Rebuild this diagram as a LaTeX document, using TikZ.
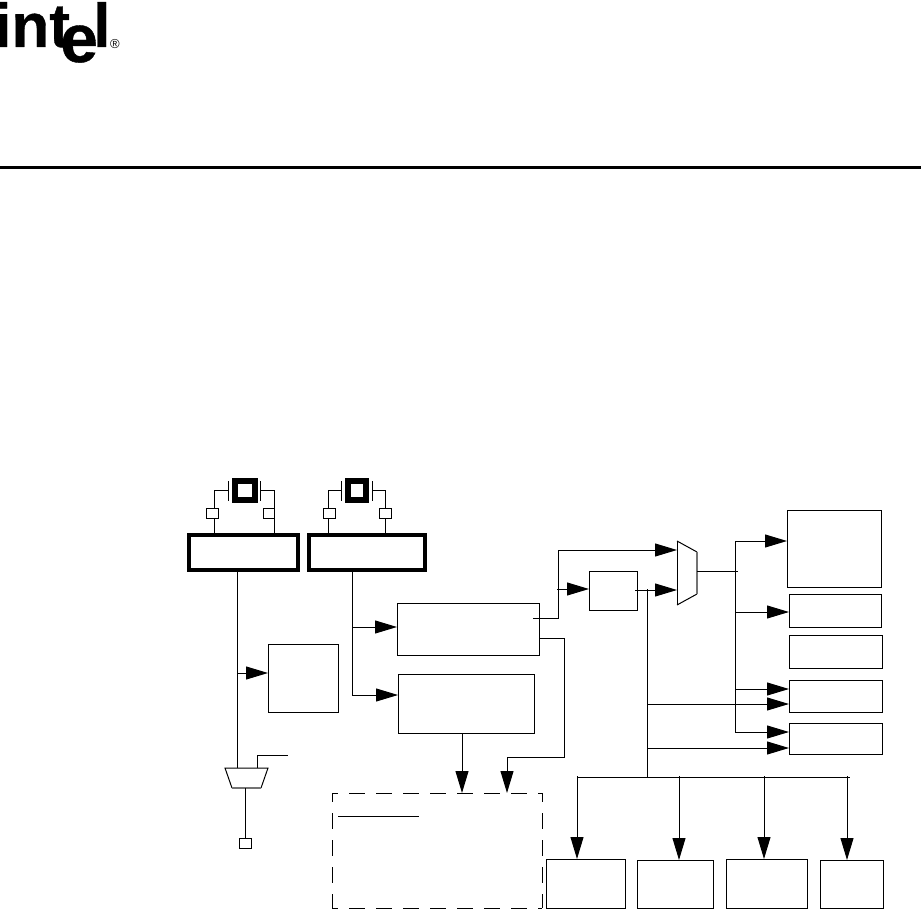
\documentclass[tikz,border=0pt]{standalone}
\usepackage{fontspec}
\setmainfont{Liberation Sans}
\newfontfamily\logofont[FakeBold=0.6]{Liberation Sans Bold}
\usetikzlibrary{arrows.meta, calc}

\begin{document}
\begin{tikzpicture}[
    x=1pt, y=-1pt,
    % Define styles for reusable components
    block/.style 2 args={draw, line width=1pt, fill=white, inner sep=0pt, outer sep=0pt, anchor=north west, minimum width=#1pt, minimum height=#2pt},
    heavy/.style 2 args={block={#1}{#2}, line width=3.4pt},
    pad/.style={block={12}{10}},
    wire/.style={line width=1pt},
    arrow/.style={wire, -{Triangle[length=22pt, width=13pt]}},
    logo/.style={inner sep=0pt, anchor=base west, font=\logofont\fontsize{62}{62}\selectfont}
]

    \useasboundingbox (0,0) rectangle (921,909);

    % --- HEADER ---
    \node[logo] (logoint) at (-6,47) {int};
    \node[logo, font=\logofont\fontsize{68}{68}\selectfont] (logoe) at (60,62) {e};
    \node[logo] (logol) at (93,47) {l};
    \node[inner sep=0pt, font=\fontsize{13}{13}\selectfont] (logoreg) at (115,44) {®};
    \draw[line width=3pt] (0,167.5) -- (921,167.5);

    % --- CRYSTAL 1 ---
    \node[heavy={20}{19}, line width=6pt] (xtalA) at (235,481) {};
    \node[heavy={109}{35}] (oscA) at (189,535) {};
    \coordinate (padAl) at (214,533);
    \coordinate (padAr) at (274,533);
    \draw[wire] (228.5,481) -- (228.5,501);
    \draw[wire] (260,481) -- (260,501);
    \draw[wire] (228.5,490) -| (padAl);
    \draw[wire] (260,490) -| (padAr);
    \node[pad] (pinAl) at (206,508) {};
    \node[pad, minimum width=11pt] (pinAr) at (263,508) {};

    % --- CRYSTAL 2 ---
    \node[heavy={18}{19}, line width=6pt] (xtalB) at (348,481) {};
    \node[heavy={116}{35}] (oscB) at (309,535) {};
    \coordinate (padBl) at (328,533);
    \coordinate (padBr) at (385,533);
    \draw[wire] (341,481) -- (341,501);
    \draw[wire] (372,481) -- (372,501);
    \draw[wire] (341,490) -| (padBl);
    \draw[wire] (372,490) -| (padBr);
    \node[pad] (pinBl) at (323,508) {};
    \node[pad] (pinBr) at (379,508) {};

    % --- LEFT BRANCH ---
    \node[block={70}{68}] (boxTimer) at (268,644) {};
    \coordinate (muxAin) at (237,768);
    \coordinate (muxAsel) at (257,768);
    \coordinate (muxAout) at (245,788);
    \coordinate (selEnd) at (288,755);
    \draw[wire] (237,569) -- (muxAin);
    \draw[arrow] (237,673) -- (237,673 -| boxTimer.west);
    \draw[wire] (muxAsel) |- (selEnd);
    \draw[line width=1pt] (232,788) -- (225,768) -- (268,768) -- (261,788);
    \draw[line width=1.4pt, black!55] (232,788) -- (261,788);
    \node[pad] (pinOut) at (239,838) {};
    \draw[wire] (muxAout) -- (pinOut.north -| muxAout);

    % --- MIDDLE BRANCH ---
    \node[block={142}{52}] (boxPll) at (397,603) {};
    \node[block={136}{59}] (boxDiv) at (398,674) {};
    \coordinate (tapPll) at (352,627);
    \coordinate (tapDiv) at (352,695);
    \draw[wire] (oscB.south -| tapPll) -- (tapDiv);
    \draw[arrow] (tapPll) -- (tapPll -| boxPll.west);
    \draw[arrow] (tapDiv) -- (tapDiv -| boxDiv.west);

    % --- DASHED BOX ---
    \node[block={210}{115}, draw=none, fill=none] (boxCore) at (332,793) {};
    \draw[wire, dash pattern=on 16pt off 11pt, dash phase=10pt]
        (boxCore.north west) -- (boxCore.north east)
        (boxCore.south west) -- (boxCore.south east);
    \draw[wire, dash pattern=on 16pt off 11pt, dash phase=7pt]
        (boxCore.north west) -- (boxCore.south west)
        (boxCore.north east) -- (boxCore.south east);
    \coordinate (ruleL) at (338,816);
    \coordinate (ruleR) at (419,816);
    \draw[wire] (ruleL) -- (ruleR);
    \coordinate (inDiv) at (462,733);
    \coordinate (inPll) at (507,757);
    \coordinate (pllOut) at (539,638);
    \draw[arrow] (inDiv) -- (inDiv |- boxCore.north);
    \draw[wire] (pllOut) -- (564,638) |- (inPll);
    \draw[arrow] (inPll) -- (inPll |- boxCore.north);

    % --- CLOCK SELECT ---
    \node[block={48}{39}] (boxPre) at (589,571) {};
    \coordinate (pllTap) at (533,618);
    \coordinate (splitA) at (558,589);
    \coordinate (muxBa) at (677,550);
    \coordinate (muxBb) at (677,590);
    \coordinate (muxBout) at (697,571);
    \draw[wire] (pllTap) -| (splitA);
    \draw[arrow] (557,589) -- (splitA -| boxPre.west);
    \draw[arrow] (splitA) |- (muxBa);
    \draw[arrow] (635,590) -- (muxBb);
    \draw[wire] (677,541) -- (697,552);
    \draw[wire] (677,605) -- (697,594);
    \draw[wire] (677,541) -- (677,605);
    \draw[line width=1.4pt, black!55] (697,552) -- (697,594);

    % --- RIGHT COLUMN ---
    \node[block={94}{77}] (boxD) at (787,510) {};
    \node[block={92}{33}] (boxE) at (789,594) {};
    \node[block={93}{33}] (boxF) at (789,635) {};
    \node[block={93}{32}] (boxG) at (789,680) {};
    \node[block={93}{31}] (boxH) at (789,723) {};
    \coordinate (railTop) at (735,541);
    \coordinate (railE) at (735,612);
    \coordinate (railG) at (735,689);
    \coordinate (railBot) at (735,732);
    \draw[wire] (muxBout) -- (738,571);
    \draw[wire] (railTop) -- (railBot);
    \draw[arrow] (railTop) -- (railTop -| boxD.west);
    \draw[arrow] (railE) -- (railE -| boxE.west);
    \draw[arrow] (railG) -- (railG -| boxG.west);
    \draw[arrow] (railBot) -- (railBot -| boxH.west);

    % --- LOWER BUS ---
    \node[block={79}{49}] (boxI) at (546,859) {};
    \node[block={76}{48}] (boxJ) at (637,860) {};
    \node[block={81}{49}] (boxK) at (726,859) {};
    \node[block={63}{48}] (boxL) at (820,860) {};
    \coordinate (busTop) at (647,589);
    \coordinate (busMid) at (647,704);
    \coordinate (busLow) at (647,748);
    \coordinate (busBot) at (647,777);
    \draw[wire] (busTop) -- (busBot);
    \draw[arrow] (busMid) -- (busMid -| boxG.west);
    \draw[arrow] (busLow) -- (busLow -| boxH.west);
    \draw[wire] (577,777) -- (850,777);
    \foreach \nodename/\busx in {boxI/577, boxJ/679, boxK/764, boxL/847} {
        \draw[arrow] (\busx,776) -- (\busx,776 |- \nodename.north);
    }

\end{tikzpicture}
\end{document}
